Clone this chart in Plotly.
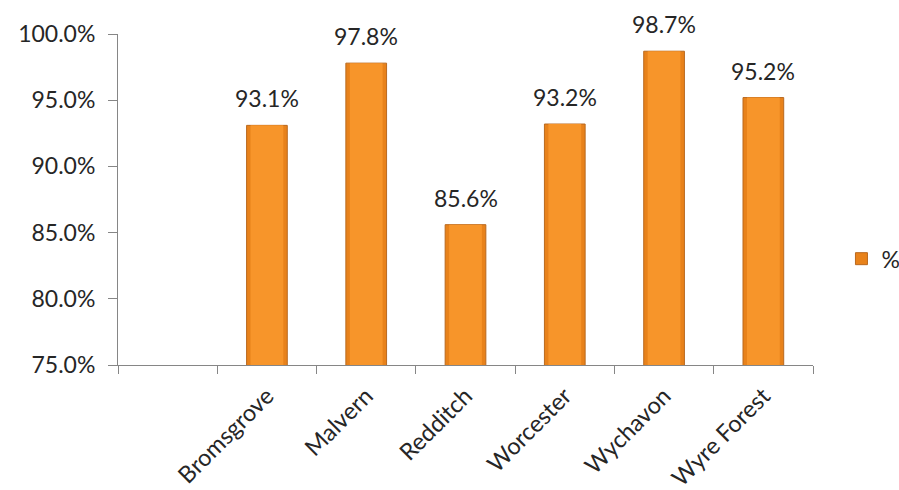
import plotly.graph_objects as go

# Share of responses per district; the leading blank slot is an empty category
districts = [" ", "Bromsgrove", "Malvern", "Redditch", "Worcester", "Wychavon", "Wyre Forest"]
pct = [None, 0.931, 0.978, 0.856, 0.932, 0.987, 0.952]
series_name = "%"

y_ticks = [0.75, 0.80, 0.85, 0.90, 0.95, 1.00]

FONT = "Lato, 'Open Sans', sans-serif"
TEXT_COL = "#262626"
AXIS_COL = "#868686"

fig = go.Figure()

# outer (darker edge) bar
fig.add_trace(go.Bar(
    x=districts, y=pct, name=series_name, width=0.41,
    marker=dict(color="#E8821B", line=dict(color="#B9691F", width=1)),
    hovertemplate="%{x}: %{y:.1%}<extra></extra>",
))
# lighter core to give the bars a bevelled look
fig.add_trace(go.Bar(
    x=districts, y=pct, width=0.33, showlegend=False, hoverinfo="skip",
    marker=dict(color="#F7952A", line=dict(width=0)),
))

# value labels above each bar
for name, v in zip(districts, pct):
    if v is None:
        continue
    fig.add_annotation(
        x=name, y=v, text=f"{v:.1%}", showarrow=False,
        yanchor="bottom", yshift=11,
        font=dict(family=FONT, size=23, color=TEXT_COL),
    )

fig.update_layout(
    width=899, height=490,
    margin=dict(l=118, r=86, t=34, b=125, autoexpand=False),
    paper_bgcolor="white", plot_bgcolor="white",
    barmode="overlay",
    font=dict(family=FONT, size=22, color=TEXT_COL),
    legend=dict(xref="container", yref="container",
                x=0.936, y=0.472, xanchor="left", yanchor="middle",
                font=dict(family=FONT, size=23, color=TEXT_COL),
                itemwidth=30, bgcolor="rgba(0,0,0,0)"),
    xaxis=dict(
        type="category", categoryorder="array", categoryarray=districts,
        range=[-0.5, len(districts) - 0.5],
        tickson="boundaries", ticks="outside", ticklen=8, tickcolor=AXIS_COL,
        showline=True, linecolor=AXIS_COL, linewidth=1,
        showgrid=False, tickangle=-45, ticklabelstandoff=7,
        tickfont=dict(family=FONT, size=23.5, color=TEXT_COL),
    ),
    yaxis=dict(
        range=[0.75, 1.0], tickvals=y_ticks, tickformat=".1%",
        ticks="outside", ticklen=9, tickcolor=AXIS_COL,
        showline=True, linecolor=AXIS_COL, linewidth=1,
        showgrid=False, zeroline=False, ticklabelstandoff=8,
        tickfont=dict(family=FONT, size=23, color=TEXT_COL),
    ),
)

fig.write_html("out.html")
